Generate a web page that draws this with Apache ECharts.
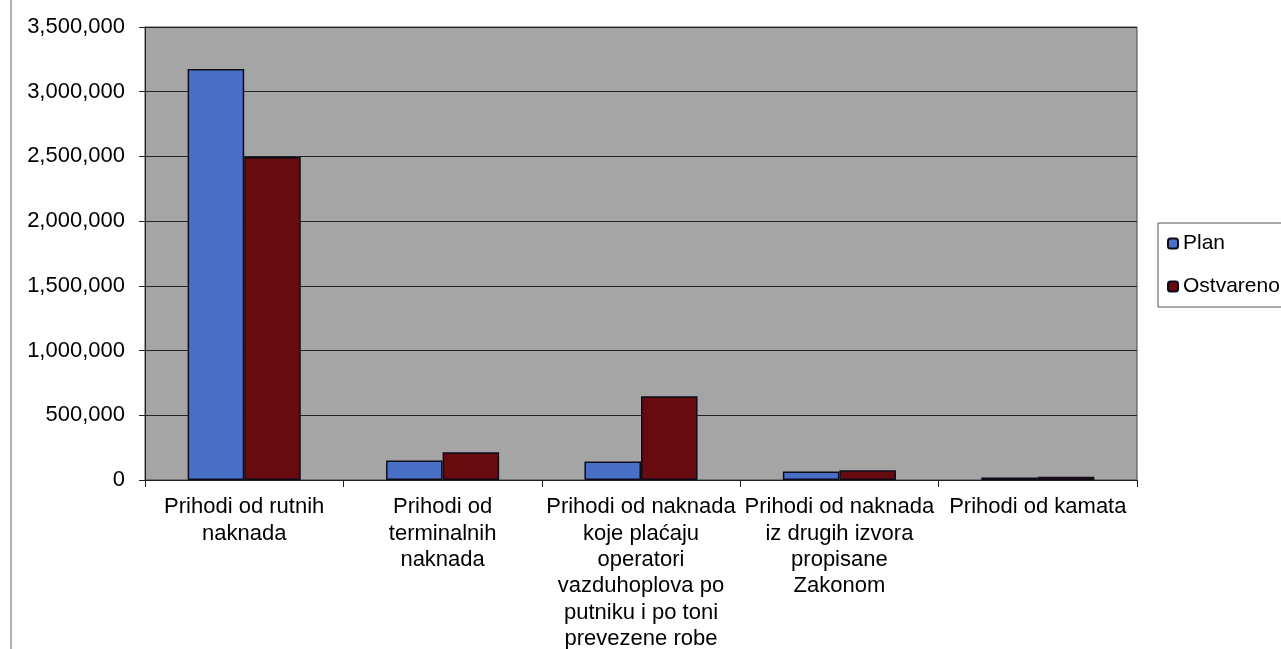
<!DOCTYPE html>
<html>
<head>
<meta charset="utf-8">
<script src="https://cdn.jsdelivr.net/npm/echarts@6/dist/echarts.min.js"></script>
<style>
  html, body { margin: 0; padding: 0; background: #fff; }
  #main { width: 1281px; height: 649px; }
</style>
</head>
<body>
<div id="main"></div>
<script>
var categories = [
  'Prihodi od rutnih\nnaknada',
  'Prihodi od\nterminalnih\nnaknada',
  'Prihodi od naknada\nkoje plaćaju\noperatori\nvazduhoplova po\nputniku i po toni\nprevezene robe',
  'Prihodi od naknada\niz drugih izvora\npropisane\nZakonom',
  'Prihodi od kamata'
];
var planValues = [3175000, 151000, 143000, 65000, 20000];
var ostvarenoValues = [2495000, 215000, 648000, 75000, 25000];
var seriesNames = ['Plan', 'Ostvareno'];

var font = '"Liberation Sans", Arial, sans-serif';
var chart = echarts.init(document.getElementById('main'));

var option = {
  backgroundColor: '#ffffff',
  textStyle: { fontFamily: font },
  grid: {
    left: 145, right: 144, top: 27, bottom: 169,
    outerBoundsMode: 'none',
    containLabel: false,
    show: true,
    backgroundColor: '#a5a5a5',
    borderColor: '#444',
    borderWidth: 1
  },
  legend: {
    orient: 'vertical',
    left: 1158, top: 223,
    data: seriesNames,
    itemWidth: 10, itemHeight: 10,
    itemGap: 22,
    padding: [10, 40, 10, 9],
    borderColor: '#555', borderWidth: 1,
    textStyle: { fontSize: 21, color: '#000', fontFamily: font, padding: [0, 0, 0, 0] }
  },
  xAxis: {
    type: 'category',
    data: categories,
    axisLine: { lineStyle: { color: '#222', width: 1 } },
    axisTick: { show: true, length: 7, lineStyle: { color: '#222' } },
    axisLabel: {
      interval: 0, fontSize: 22, lineHeight: 26.4, color: '#000',
      fontFamily: font, margin: 14, align: 'center'
    }
  },
  yAxis: {
    type: 'value',
    min: 0, max: 3500000, interval: 500000,
    axisLine: { show: true, lineStyle: { color: '#222' } },
    axisTick: { show: true, length: 6, lineStyle: { color: '#222' } },
    splitLine: { lineStyle: { color: '#222', width: 1 } },
    axisLabel: {
      fontSize: 22, color: '#000', fontFamily: font, margin: 20,
      formatter: function (v) { return v.toLocaleString('en-US'); }
    }
  },
  series: [
    {
      name: seriesNames[0],
      type: 'bar',
      barGap: '0%',
      barCategoryGap: '43%',
      itemStyle: { color: '#4a6fc6', borderColor: '#0d0d1a', borderWidth: 1.5 },
      data: planValues
    },
    {
      name: seriesNames[1],
      type: 'bar',
      itemStyle: { color: '#670b0e', borderColor: '#0d0d1a', borderWidth: 1.5 },
      data: ostvarenoValues
    }
  ],
  graphic: [
    // okvir grafikona, vidi se samo lijeva ivica
    {
      type: 'line',
      shape: { x1: 11, y1: 0, x2: 11, y2: 649 },
      style: { stroke: '#999', lineWidth: 1.5 }
    }
  ]
};

chart.setOption(option);
</script>
</body>
</html>
